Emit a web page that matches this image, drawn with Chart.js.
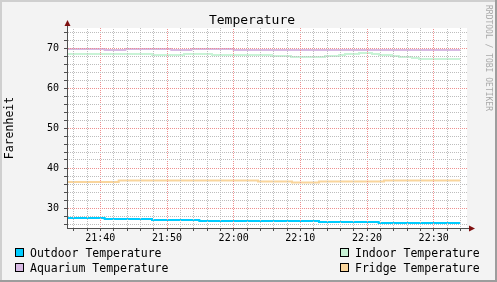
<!DOCTYPE html>
<html>
<head>
<meta charset="utf-8">
<title>Temperature</title>
<script src="https://cdn.jsdelivr.net/npm/chart.js@4.4.1/dist/chart.umd.min.js"></script>
<style>
  html, body { margin: 0; padding: 0; background: #f3f3f3; }
  canvas { display: block; }
</style>
</head>
<body>
<canvas id="myChart" width="497" height="282"></canvas>
<script>
// --- data ---
const chartTitle = 'Temperature';
const yAxisTitle = 'Farenheit';
const creditText = 'RRDTOOL / TOBI OETIKER';

const seriesNames = ['Outdoor Temperature', 'Indoor Temperature', 'Aquarium Temperature', 'Fridge Temperature'];
const seriesColors = ['#00ccff', '#c8f3d6', '#d7b9e3', '#f9d59c'];

const outdoorTimes = ['21:35:00', '21:40:39', '21:47:45', '21:54:51', '22:12:48', '22:21:45', '22:34:00'];
const outdoorValues = [27.5, 27.25, 27.0, 26.75, 26.5, 26.25, 26.25];

const indoorTimes = ['21:35:00', '21:47:45', '21:52:33', '21:56:45', '22:05:45', '22:08:36', '22:13:42', '22:15:48',
                     '22:16:42', '22:18:48', '22:20:45', '22:21:48', '22:23:45', '22:24:48', '22:26:45', '22:27:48', '22:34:00'];
const indoorValues = [68.5, 68.25, 68.5, 68.25, 68.0, 67.75, 68.0, 68.25,
                      68.5, 68.75, 68.5, 68.25, 68.0, 67.75, 67.5, 67.25, 67.25];

const aquariumTimes = ['21:35:00', '21:40:39', '21:43:45', '21:50:39', '21:53:39', '22:00:00', '22:34:00'];
const aquariumValues = [69.75, 69.5, 69.75, 69.5, 69.75, 69.5, 69.5];

const fridgeTimes = ['21:35:00', '21:42:45', '22:03:39', '22:08:45', '22:12:48', '22:22:33', '22:34:00'];
const fridgeValues = [36.5, 36.85, 36.65, 36.4, 36.65, 36.9, 36.9];

const xStart = '21:35';
const xEnd = '22:35';
const xTickLabels = ['21:40', '21:50', '22:00', '22:10', '22:20', '22:30'];
const yTickLabels = [30, 40, 50, 60, 70];
const yMin = 25;
const yMax = 75;
const gridStepX = 2;   // minutes between minor grid lines
const gridStepY = 2;   // degrees between minor grid lines

// --- helpers ---
const mono = 'DejaVu Sans Mono';
const toMin = s => { const p = s.split(':').map(Number); return p[0] * 60 + p[1] + (p[2] || 0) / 60; };
const fmt = m => String(Math.floor(m / 60)).padStart(2, '0') + ':' + String(Math.round(m % 60)).padStart(2, '0');
const pts = (times, vals) => times.map((t, i) => ({ x: toMin(t), y: vals[i] }));
// grid positions strictly inside [lo, hi] on multiples of step
const inner = (lo, hi, step) => {
    const out = [];
    for (let v = Math.floor(lo / step) * step + step; v < hi; v += step) out.push(v);
    return out;
};

const seriesData = [
    pts(outdoorTimes, outdoorValues),
    pts(indoorTimes, indoorValues),
    pts(aquariumTimes, aquariumValues),
    pts(fridgeTimes, fridgeValues)
];

const canvas = document.getElementById('myChart');
const ctx = canvas.getContext('2d');

// 1-on/1-off dots as a checker pattern, so every grid line gets the same crisp dotting
function dotted(color) {
    const c = document.createElement('canvas');
    c.width = 2; c.height = 2;
    const g = c.getContext('2d');
    g.fillStyle = color;
    g.fillRect(0, 0, 1, 1);
    g.fillRect(1, 1, 1, 1);
    return ctx.createPattern(c, 'repeat');
}
const gridMinor = dotted('#bdbdbd');
const gridMajor = dotted('#ee8f8f');
const axisColor = '#4f4f4f';
const arrowColor = '#7f1010';

const xGrid = inner(toMin(xStart), toMin(xEnd), gridStepX);
const yGrid = inner(yMin, yMax, gridStepY);
const xGridColors = xGrid.map(v => (xTickLabels.includes(fmt(v)) ? gridMajor : gridMinor));
const yGridColors = yGrid.map(v => (yTickLabels.includes(v) ? gridMajor : gridMinor));

// background, frame, arrows, legend and credit line (rrdtool style)
const rrdLook = {
    id: 'rrdLook',
    beforeDraw(chart) {
        const { ctx, width, height, chartArea: a } = chart;
        ctx.save();
        ctx.fillStyle = '#f3f3f3';
        ctx.fillRect(0, 0, width, height);
        ctx.fillStyle = '#cfcfcf';        // top/left shade
        ctx.fillRect(0, 0, width, 2);
        ctx.fillRect(0, 0, 2, height);
        ctx.fillStyle = '#9d9d9d';        // bottom/right shade
        ctx.fillRect(0, height - 2, width, 2);
        ctx.fillRect(width - 2, 0, 2, height);
        ctx.fillStyle = '#ffffff';
        ctx.fillRect(a.left, a.top, a.right - a.left, a.bottom - a.top);
        ctx.restore();
    },
    afterDraw(chart) {
        const { ctx, chartArea: a } = chart;
        ctx.save();
        // axis extensions + arrow heads
        ctx.strokeStyle = axisColor;
        ctx.lineWidth = 1;
        ctx.beginPath();
        ctx.moveTo(a.left + 0.5, a.top);
        ctx.lineTo(a.left + 0.5, a.top - 3);
        ctx.moveTo(a.right, a.bottom + 0.5);
        ctx.lineTo(a.right + 2, a.bottom + 0.5);
        ctx.stroke();
        ctx.fillStyle = arrowColor;
        ctx.beginPath();
        ctx.moveTo(a.left + 0.5, a.top - 8);
        ctx.lineTo(a.left + 3.5, a.top - 2);
        ctx.lineTo(a.left - 2.5, a.top - 2);
        ctx.closePath();
        ctx.fill();
        ctx.beginPath();
        ctx.moveTo(a.right + 8, a.bottom + 0.5);
        ctx.lineTo(a.right + 2, a.bottom - 2.5);
        ctx.lineTo(a.right + 2, a.bottom + 3.5);
        ctx.closePath();
        ctx.fill();

        // legend: two columns, left one flush left, right one flush right
        ctx.font = '11.5px "' + mono + '"';
        ctx.textBaseline = 'alphabetic';
        ctx.textAlign = 'left';
        chart.data.datasets.forEach((ds, i) => {
            const col = i % 2, row = Math.floor(i / 2);
            const by = 248 + row * 15;
            const bx = col === 0 ? 15 : 340;
            ctx.fillStyle = ds.borderColor;
            ctx.fillRect(bx, by, 9, 9);
            ctx.strokeStyle = '#000';
            ctx.lineWidth = 1;
            ctx.strokeRect(bx + 0.5, by + 0.5, 8, 8);
            ctx.fillStyle = '#000';
            ctx.fillText(ds.label, bx + 15, by + 8.5);
        });

        // credit along the right edge
        ctx.font = '8px "' + mono + '"';
        ctx.fillStyle = '#a9a9a9';
        ctx.textBaseline = 'middle';
        ctx.translate(488, 5);
        ctx.rotate(Math.PI / 2);
        ctx.fillText(creditText, 0, 0);
        ctx.restore();
    }
};

const chart = new Chart(ctx, {
    type: 'line',
    data: {
        datasets: seriesNames.map((name, i) => ({
            label: name,
            data: seriesData[i],
            borderColor: seriesColors[i],
            backgroundColor: seriesColors[i],
            borderWidth: 2,
            stepped: true,
            pointRadius: 0,
            fill: false,
            borderCapStyle: 'butt',
            borderJoinStyle: 'miter',
            xAxisID: 'x',
            yAxisID: 'y'
        }))
    },
    options: {
        responsive: false,
        animation: false,
        events: [],
        layout: { padding: { left: 7, right: 0, top: 1.5, bottom: 0 } },
        plugins: {
            legend: { display: false },
            tooltip: { enabled: false },
            title: {
                display: true,
                text: chartTitle,
                color: '#000',
                font: { family: mono, size: 13, weight: 'normal', lineHeight: 1.2 },
                padding: { top: 11.2, bottom: -0.3 }
            }
        },
        scales: {
            x: {
                type: 'linear',
                position: 'bottom',
                min: toMin(xStart),
                max: toMin(xEnd),
                afterBuildTicks: s => { s.ticks = xGrid.map(v => ({ value: v })); },
                afterFit: s => { s.height = 54; },
                ticks: {
                    autoSkip: false,
                    maxRotation: 0,
                    padding: 1,
                    color: '#000',
                    font: { family: mono, size: 10 },
                    callback: v => (xTickLabels.includes(fmt(v)) ? fmt(v) : '')
                },
                grid: {
                    z: 1,
                    color: xGridColors,
                    lineWidth: 1,
                    tickLength: 3,
                    tickColor: axisColor
                },
                border: { display: true, color: axisColor, width: 1, z: 1 }
            },
            y: {
                type: 'linear',
                position: 'left',
                min: yMin,
                max: yMax,
                afterBuildTicks: s => { s.ticks = yGrid.map(v => ({ value: v })); },
                afterFit: s => { s.width = 60; },
                ticks: {
                    autoSkip: false,
                    padding: 5,
                    color: '#000',
                    font: { family: mono, size: 10 },
                    callback: v => (yTickLabels.includes(v) ? String(v) : '')
                },
                grid: {
                    z: 1,
                    color: yGridColors,
                    lineWidth: 1,
                    tickLength: 3,
                    tickColor: axisColor
                },
                border: { display: true, color: axisColor, width: 1, z: 1 },
                title: {
                    display: true,
                    text: yAxisTitle,
                    color: '#000',
                    font: { family: mono, size: 11.5 },
                    padding: { top: -3.9, bottom: 0 }
                }
            },
            yr: {
                type: 'linear',
                position: 'right',
                display: true,
                afterFit: s => { s.width = 30; },
                ticks: { display: false },
                grid: { display: false },
                border: { display: false }
            }
        }
    },
    plugins: [rrdLook]
});
</script>
</body>
</html>
